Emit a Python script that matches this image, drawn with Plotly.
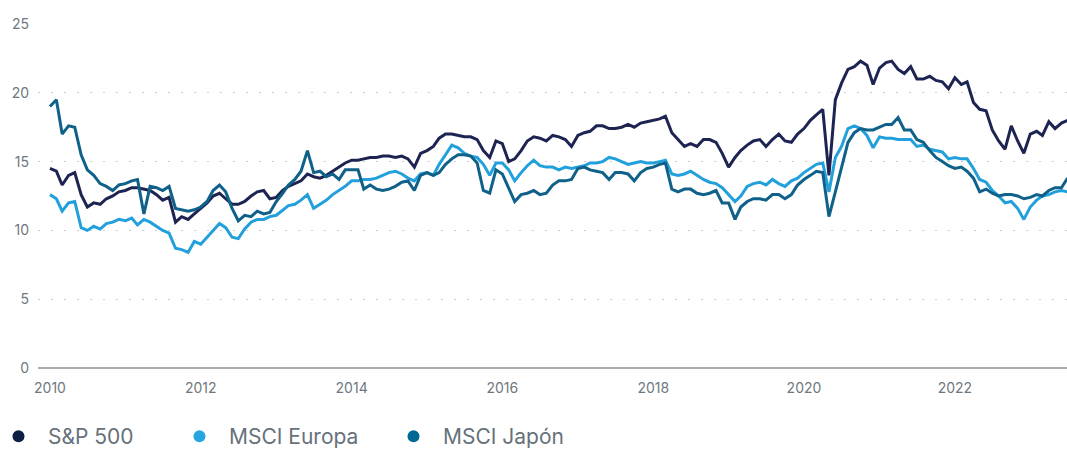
import pandas as pd
import plotly.graph_objects as go

# Fechas mensuales (ene 2010 - jul 2023)
fechas = pd.date_range("2010-01-01", periods=163, freq="MS")

sp500 = [
    14.5, 14.3, 13.3, 14.0, 14.2, 12.6, 11.7, 12.0, 11.9, 12.3, 12.5, 12.8,
    12.9, 13.1, 13.1, 13.0, 12.9, 12.6, 12.2, 12.4, 10.6, 11.0, 10.8, 11.2,
    11.6, 12.0, 12.5, 12.7, 12.3, 11.9, 11.9, 12.1, 12.5, 12.8, 12.9, 12.3,
    12.4, 12.9, 13.2, 13.4, 13.6, 14.1, 13.9, 13.8, 14.0, 14.3, 14.6, 14.9,
    15.1, 15.1, 15.2, 15.3, 15.3, 15.4, 15.4, 15.3, 15.4, 15.2, 14.6, 15.6,
    15.8, 16.1, 16.7, 17.0, 17.0, 16.9, 16.8, 16.8, 16.6, 15.8, 15.3, 16.5,
    16.3, 15.0, 15.2, 15.8, 16.5, 16.8, 16.7, 16.5, 16.9, 16.8, 16.6, 16.1,
    16.9, 17.1, 17.2, 17.6, 17.6, 17.4, 17.4, 17.5, 17.7, 17.5, 17.8, 17.9,
    18.0, 18.1, 18.3, 17.1, 16.6, 16.1, 16.3, 16.1, 16.6, 16.6, 16.4, 15.6,
    14.6, 15.3, 15.8, 16.2, 16.5, 16.6, 16.1, 16.6, 17.0, 16.5, 16.4, 17.0,
    17.4, 18.0, 18.4, 18.8, 14.0, 19.5, 20.7, 21.7, 21.9, 22.3, 22.0, 20.6,
    21.8, 22.2, 22.3, 21.7, 21.4, 21.9, 21.0, 21.0, 21.2, 20.9, 20.8, 20.3,
    21.1, 20.6, 20.8, 19.3, 18.8, 18.7, 17.3, 16.5, 15.9, 17.6, 16.5, 15.6,
    17.0, 17.2, 16.9, 17.9, 17.4, 17.8, 18.0,
]

msci_europa = [
    12.6, 12.3, 11.4, 12.0, 12.1, 10.2, 10.0, 10.3, 10.1, 10.5, 10.6, 10.8,
    10.7, 10.9, 10.4, 10.8, 10.6, 10.3, 10.0, 9.8, 8.7, 8.6, 8.4, 9.2,
    9.0, 9.5, 10.0, 10.5, 10.2, 9.5, 9.4, 10.1, 10.6, 10.8, 10.8, 11.0,
    11.1, 11.5, 11.8, 11.9, 12.2, 12.6, 11.6, 11.9, 12.2, 12.6, 12.9, 13.2,
    13.6, 13.6, 13.7, 13.7, 13.8, 14.0, 14.2, 14.3, 14.1, 13.8, 13.6, 14.1,
    14.2, 14.0, 14.8, 15.5, 16.2, 16.0, 15.6, 15.4, 15.3, 14.8, 14.0, 14.9,
    14.9, 14.4, 13.6, 14.2, 14.7, 15.1, 14.7, 14.6, 14.6, 14.4, 14.6, 14.5,
    14.6, 14.7, 14.9, 14.9, 15.0, 15.3, 15.2, 15.0, 14.8, 14.9, 15.0, 14.9,
    14.9, 15.0, 15.1, 14.1, 14.0, 14.1, 14.3, 14.0, 13.7, 13.5, 13.4, 13.1,
    12.6, 12.1, 12.5, 13.2, 13.4, 13.5, 13.3, 13.7, 13.4, 13.2, 13.6, 13.8,
    14.2, 14.5, 14.8, 14.9, 12.8, 15.3, 16.1, 17.4, 17.6, 17.4, 16.9, 16.0,
    16.8, 16.7, 16.7, 16.6, 16.6, 16.6, 16.1, 16.2, 15.9, 15.8, 15.7, 15.2,
    15.3, 15.2, 15.2, 14.5, 13.7, 13.5, 12.9, 12.5, 12.0, 12.1, 11.6, 10.8,
    11.7, 12.2, 12.5, 12.6, 12.8, 12.9, 12.8,
]

msci_japon = [
    19.0, 19.5, 17.0, 17.6, 17.5, 15.5, 14.4, 14.0, 13.4, 13.2, 12.9, 13.3,
    13.4, 13.6, 13.7, 11.2, 13.2, 13.1, 12.9, 13.2, 11.6, 11.5, 11.4, 11.5,
    11.7, 12.1, 12.9, 13.3, 12.8, 11.6, 10.7, 11.1, 11.0, 11.4, 11.2, 11.3,
    12.1, 12.7, 13.3, 13.7, 14.3, 15.8, 14.2, 14.3, 13.9, 14.1, 13.7, 14.4,
    14.4, 14.4, 13.0, 13.3, 13.0, 12.9, 13.0, 13.2, 13.5, 13.6, 12.9, 14.0,
    14.2, 14.0, 14.2, 14.8, 15.2, 15.5, 15.5, 15.4, 14.9, 12.9, 12.7, 14.4,
    14.1, 13.0, 12.1, 12.6, 12.7, 12.9, 12.6, 12.7, 13.3, 13.6, 13.6, 13.7,
    14.5, 14.6, 14.4, 14.3, 14.2, 13.7, 14.2, 14.2, 14.1, 13.6, 14.2, 14.5,
    14.6, 14.8, 14.9, 13.0, 12.8, 13.0, 13.0, 12.7, 12.6, 12.7, 12.9, 12.0,
    12.0, 10.8, 11.7, 12.1, 12.3, 12.3, 12.2, 12.6, 12.6, 12.3, 12.6, 13.3,
    13.7, 14.0, 14.3, 14.2, 11.0, 12.8, 14.5, 16.4, 17.1, 17.4, 17.3, 17.3,
    17.5, 17.7, 17.7, 18.2, 17.3, 17.3, 16.6, 16.4, 15.8, 15.3, 15.0, 14.7,
    14.5, 14.6, 14.3, 13.8, 12.8, 13.0, 12.7, 12.5, 12.6, 12.6, 12.5, 12.3,
    12.4, 12.6, 12.5, 12.9, 13.1, 13.1, 13.8,
]

# nombre, valores, color de línea, color del punto, leyenda, posición x de la leyenda
series = [
    ("S&P 500", sp500, "#1e2452", "#0c1f45", "legend", 0.0),
    ("MSCI Europa", msci_europa, "#22a0dc", "#25a6e0", "legend2", 0.1696),
    ("MSCI Japón", msci_japon, "#0f6189", "#006894", "legend3", 0.3702),
]

fig = go.Figure()

# Líneas
for nombre, valores, color, _, _, _ in series:
    fig.add_trace(go.Scatter(
        x=fechas, y=valores, mode="lines", name=nombre,
        line=dict(color=color, width=3),
        showlegend=False, hoverinfo="x+y+name",
    ))

# Leyenda con puntos (una leyenda por serie para fijar la posición)
leyendas = {}
for nombre, _, _, color_dot, leg, xpos in series:
    fig.add_trace(go.Scatter(
        x=[None], y=[None], mode="markers", name=nombre,
        marker=dict(color=color_dot, size=12), legend=leg,
    ))
    leyendas[leg] = dict(
        orientation="h", xref="container", yref="container",
        x=xpos, y=-0.01, xanchor="left", yanchor="bottom",
        font=dict(size=21, color="#66717a"),
        itemwidth=49, indentation=-11, bgcolor="rgba(0,0,0,0)",
    )

fig.update_layout(
    width=1067, height=457,
    margin=dict(l=38, r=0, t=24, b=89),
    plot_bgcolor="white", paper_bgcolor="white",
    font=dict(family="Inter, Roboto, sans-serif", color="#6e7880"),
    **leyendas,
)

fig.update_xaxes(
    range=["2009-11-04", "2023-06-28"],
    tickformat="%Y", dtick="M24", tick0="2010-01-01",
    showgrid=False, showline=False, zeroline=False,
    ticks="", ticklabelstandoff=10,
    tickfont=dict(size=14, color="#6e7880"),
)

fig.update_yaxes(
    range=[0, 25], dtick=5,
    showgrid=True, gridcolor="#c9ced3", griddash="2px,11px", gridwidth=1,
    zeroline=True, zerolinecolor="#a8adb2", zerolinewidth=1.5,
    tickfont=dict(size=14, color="#6e7880"), ticklabelstandoff=8,
)

fig.write_html(
    "out.html",
    config={"displayModeBar": False},
    post_script="document.body.style.margin='0';",
)
